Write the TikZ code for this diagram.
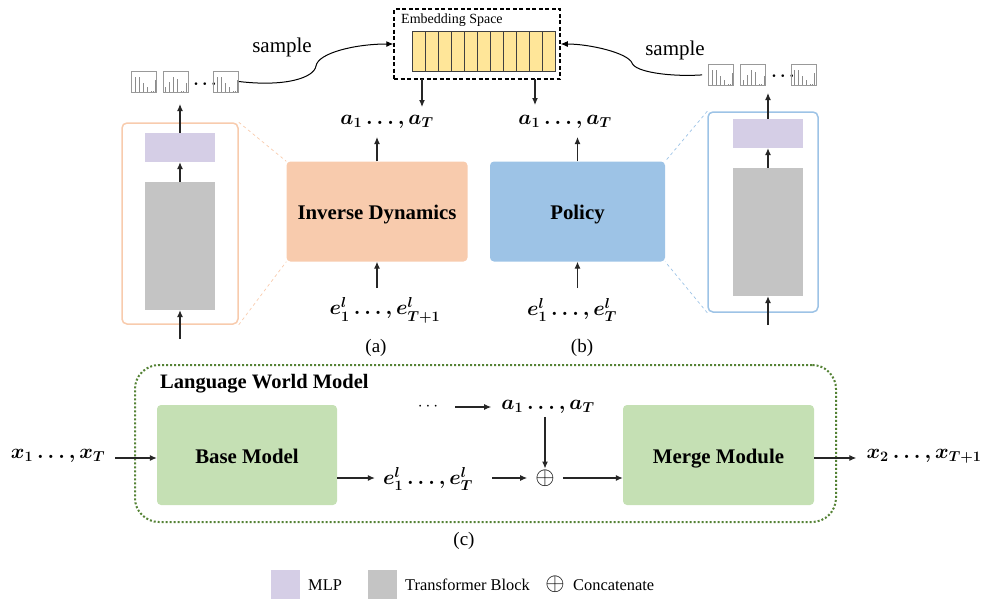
\documentclass[tikz,border=0pt]{standalone}
\usepackage{fontspec}
\setmainfont{Liberation Serif}
\usetikzlibrary{arrows.meta}
\definecolor{orangebox}{HTML}{F8CBAD}
\definecolor{bluebox}{HTML}{9DC3E6}
\definecolor{greenbox}{HTML}{C5E0B4}
\definecolor{mlpbox}{HTML}{D5CEE6}
\definecolor{tfbox}{HTML}{C4C4C4}
\definecolor{yellowbox}{HTML}{FFE699}
\definecolor{dotgreen}{HTML}{548235}
\tikzset{
  arr/.style={-{Latex[length=7pt,width=6pt]},line width=1.1pt,black!85},
  block/.style={rectangle,rounded corners=4pt,minimum height=100pt,text height=17pt,text depth=1pt,font=\fontsize{20.8}{21}\selectfont\bfseries},
  panel/.style={rectangle,rounded corners=5pt,line width=1.5pt,fill=white},
  layerbox/.style={rectangle,minimum width=70pt},
  chart/.style={rectangle,draw=black!40,line width=0.7pt,minimum width=25pt,minimum height=21pt,inner sep=0pt},
  seq/.style={font=\fontsize{21.5}{22}\selectfont,inner sep=1pt},
  captext/.style={font=\fontsize{19}{19}\selectfont,inner sep=0pt},
  legendbox/.style={rectangle,minimum size=29pt,inner sep=0pt},
  legendtext/.style={font=\fontsize{16.4}{17}\selectfont,inner sep=0pt,anchor=west}
}
\begin{document}
\begin{tikzpicture}[x=1pt,y=-1pt]
	\useasboundingbox (0,0) rectangle (986,598);

	% embedding space
	\node (emb)  [rectangle,draw,dash pattern=on 4pt off 2.5pt,line width=1.5pt,minimum width=166pt,minimum height=70pt] at (477,44) {};
	\node (embt) [anchor=west,inner sep=0pt,font=\fontsize{14}{14}\selectfont] at (401,20) {Embedding Space};
	\foreach \i in {0,...,10}
	  \node (c\i) [rectangle,draw=black!75,fill=yellowbox,line width=0.8pt,minimum width=13pt,minimum height=40pt,inner sep=0pt] at (418.5+13*\i,51) {};

	% panels
	\node (pl)  [panel,draw=orangebox,minimum width=116pt,minimum height=201pt] at (180,223.5) {};
	\node (pr)  [panel,draw=bluebox,minimum width=110pt,minimum height=200pt] at (763,212) {};
	\node (ml)  [layerbox,fill=mlpbox,minimum height=29pt]  at (180,147.5) {};
	\node (tl)  [layerbox,fill=tfbox,minimum height=128pt]  at (180,246) {};
	\node (mr)  [layerbox,fill=mlpbox,minimum height=29pt]  at (768,133.5) {};
	\node (tr)  [layerbox,fill=tfbox,minimum height=128pt]  at (768,232) {};

	% main blocks
	\node (inv)  [block,fill=orangebox,minimum width=181pt] at (377,211.5) {Inverse Dynamics};
	\node (pol)  [block,fill=bluebox,minimum width=175pt]   at (577.5,211.5) {Policy};
	\node (base) [block,fill=greenbox,minimum width=180pt]  at (247,455) {Base Model};
	\node (merge)[block,fill=greenbox,minimum width=191pt]  at (718.5,455) {Merge Module};
	\node (lwm)  [rectangle,draw=dotgreen,dotted,line width=2pt,rounded corners=24pt,minimum width=701pt,minimum height=157pt] at (485.5,443.5) {};
	\node (lwmt) [anchor=west,inner sep=0pt,font=\fontsize{20.5}{21}\selectfont\bfseries] at (160,384) {Language World Model};

	% zoom guides
	\draw[orangebox,dashed,line width=0.7pt] (pl.north east) -- (inv.north west);
	\draw[orangebox,dashed,line width=0.7pt] (pl.south east) -- (inv.south west);
	\draw[bluebox,dashed,line width=0.7pt]   (pr.north west) -- (pol.north east);
	\draw[bluebox,dashed,line width=0.7pt]   (pr.south west) -- (pol.south east);

	% sequences
	\boldmath
	\node (a1) [seq] at (387,122) {$a_1\ldots,a_T$};
	\node (a2) [seq] at (565,122) {$a_1\ldots,a_T$};
	\node (e1) [seq] at (385,310) {$e_1^l\ldots,e_{T+1}^l$};
	\node (e2) [seq] at (572,310) {$e_1^l\ldots,e_T^l$};
	\node (x1) [seq] at (58,456)  {$x_1\ldots,x_T$};
	\node (x2) [seq] at (924,456) {$x_2\ldots,x_{T+1}$};
	\node (e3) [seq] at (428,479) {$e_1^l\ldots,e_T^l$};
	\node (a3) [seq] at (548,407) {$a_1\ldots,a_T$};
	\node (d1) [inner sep=0pt,font=\fontsize{18}{18}\selectfont] at (205,84) {$\cdots$};
	\node (d2) [inner sep=0pt,font=\fontsize{18}{18}\selectfont] at (783,76) {$\cdots$};
	\unboldmath
	\node (dd) [inner sep=0pt,font=\fontsize{18}{18}\selectfont] at (428,407) {$\cdots$};
	\node (op) [inner sep=0pt,font=\fontsize{27}{27}\selectfont] at (545,478) {$\oplus$};

	% captions
	\node (ca) [captext] at (376,348) {(a)};
	\node (cb) [captext] at (582,348) {(b)};
	\node (cc) [captext] at (464,541) {(c)};
	\node (s1) [inner sep=0pt,font=\fontsize{21}{21}\selectfont] at (282,47) {sample};
	\node (s2) [inner sep=0pt,font=\fontsize{21}{21}\selectfont] at (675,50) {sample};

	% samples, bar charts
	\foreach \n/\cx/\cy/\ty in {b1/144/81.5/0,b2/175.5/81.5/1,b3/226/81.5/0,b4/721/74.5/0,b5/753/74.5/1,b6/803.5/74.5/0}{
	  \node (\n) [chart] at (\cx,\cy) {};
	  \ifnum\ty=0
	    \foreach \bx/\bh in {-9/15,-5/15,-1/9,3/5,7/1,9/1,11/12}
	      \draw[black!45,line width=0.8pt] (\cx+\bx,\cy+10) -- ++(0,-\bh);
	  \else
	    \foreach \bx/\bh in {-10/5,-6/10,-2/15,2/13,6/1,8/1,11/9}
	      \draw[black!45,line width=0.8pt] (\cx+\bx,\cy+10) -- ++(0,-\bh);
	  \fi
	}

	% free ends of the arrows below the panels
	\coordinate (il) at (180,339);
	\coordinate (ir) at (768,325);
	\coordinate (gl) at (180,104);
	\coordinate (gr) at (768,93);
	\coordinate (ea) at (422,79);
	\coordinate (eb) at (535,79);
	\coordinate (da) at (422,107);
	\coordinate (db) at (535,105);
	\coordinate (ua) at (377,137);
	\coordinate (ub) at (577.5,137);
	\coordinate (va) at (377,288);
	\coordinate (vb) at (577.5,288);

	\foreach \from/\to in {il/tl.south,tl.north/ml.south,ml.north/gl,ir/tr.south,tr.north/mr.south,mr.north/gr,ea/da,eb/db,inv.north/ua,pol.north/ub,va/inv.south,vb/pol.south}
	  \draw[arr] (\from) -- (\to);

	% sample curves
	\draw[-{Latex[length=7pt,width=6pt]},line width=1pt] (b3.east) .. controls (285,87) and (314,78) .. (316,66) .. controls (318,53) and (355,44) .. (emb.west);
	\draw[-{Latex[length=7pt,width=6pt]},line width=1pt,shorten <=6pt] (b4.west) .. controls (670,77) and (635,72) .. (632,63) .. controls (628,53) and (590,44) .. (emb.east);

	% language world model
	\draw[arr,shorten <=9pt] ([yshift=-3pt]x1.east |- base.west) -- ([yshift=-3pt]base.west);
	\draw[arr,shorten >=9pt] ([yshift=-3pt]merge.east) -- ([yshift=-3pt]x2.west |- merge.east);
	\draw[arr,shorten >=7pt] (base.east |- op.west) -- (e3.west |- op.west);
	\draw[arr,shorten <=18pt,shorten >=8pt] (e3.east |- op.west) -- (op.west);
	\draw[arr,shorten <=8pt] (op.east) -- (merge.west |- op.east);
	\draw[arr,shorten <=17pt,shorten >=9pt] (dd.east |- a3.west) -- (a3.west);
	\draw[arr,shorten <=2pt,shorten >=1pt] (op.north |- a3.south) -- (op.north);

	% legend
	\node (lm)  [legendbox,fill=mlpbox] at (285.5,584) {};
	\node (lt)  [legendbox,fill=tfbox]  at (382.5,584) {};
	\node (lmt) [legendtext] at (308,585) {MLP};
	\node (ltt) [legendtext] at (405,585) {Transformer Block};
	\node (lo)  [inner sep=0pt,font=\fontsize{34}{34}\selectfont] at (555,584) {$\oplus$};
	\node (lot) [legendtext] at (573,585) {Concatenate};
\end{tikzpicture}
\end{document}
